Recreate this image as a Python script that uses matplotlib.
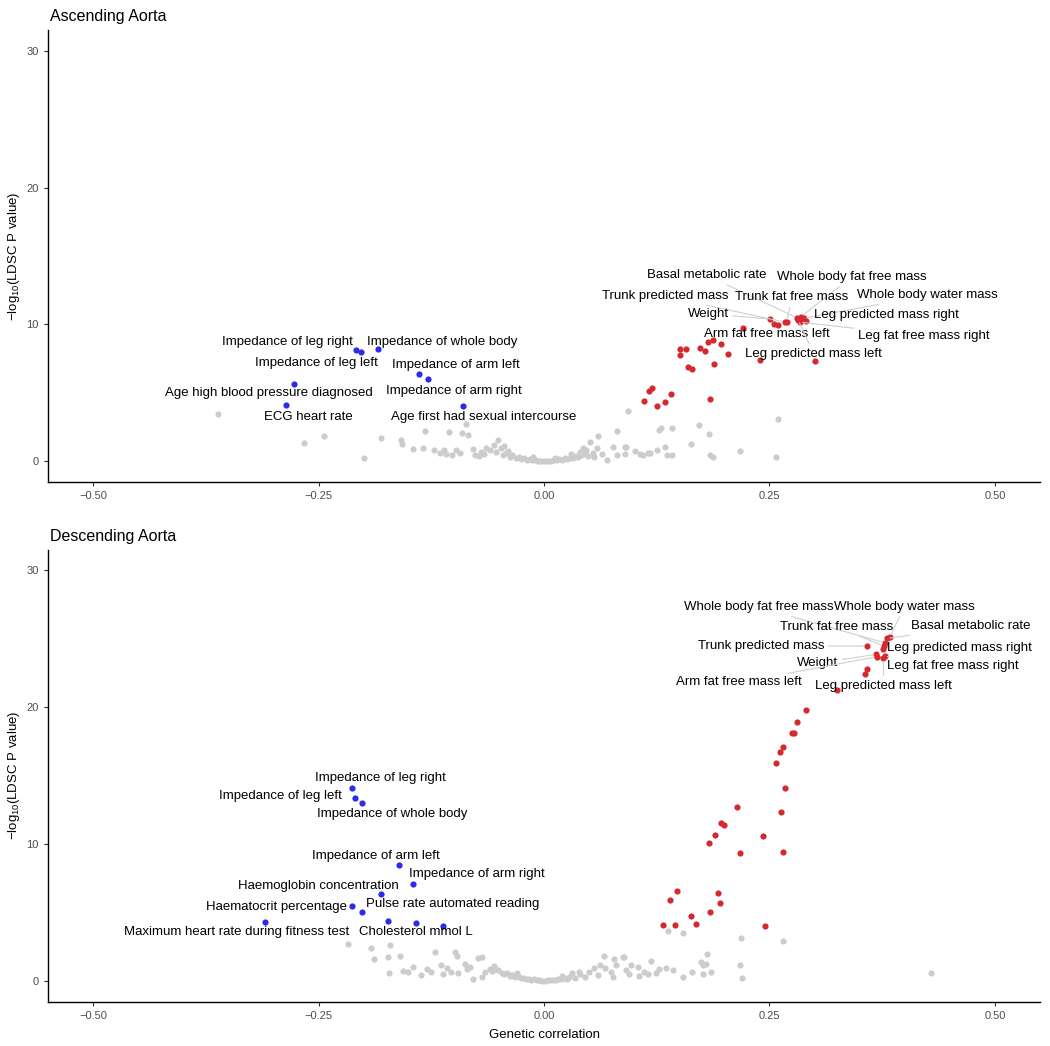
import matplotlib
matplotlib.use('Agg')
import matplotlib.pyplot as plt

plt.rcParams['font.family'] = ['Liberation Sans', 'DejaVu Sans']
plt.rcParams['mathtext.default'] = 'regular'

# ---------------- Ascending aorta ----------------
asc_pos_traits = ['Basal metabolic rate', 'Whole body fat free mass', 'Trunk predicted mass',
                  'Trunk fat free mass', 'Whole body water mass', 'Weight',
                  'Leg predicted mass right', 'Arm fat free mass left',
                  'Leg fat free mass right', 'Leg predicted mass left']
asc_pos_rg = [0.280, 0.285, 0.267, 0.269, 0.288, 0.251, 0.291, 0.221, 0.284, 0.282]
asc_pos_logp = [10.50, 10.58, 10.17, 10.20, 10.45, 10.40, 10.24, 9.76, 10.17, 10.30]

asc_pos_other_rg = [0.255, 0.259, 0.196, 0.182, 0.187, 0.204, 0.173, 0.178, 0.151, 0.157,
                    0.151, 0.160, 0.164, 0.188, 0.240, 0.300, 0.116, 0.120, 0.141, 0.111,
                    0.125, 0.134, 0.184]
asc_pos_other_logp = [10.05, 9.98, 8.59, 8.71, 8.88, 7.86, 8.27, 8.10, 8.18, 8.18,
                      7.74, 6.93, 6.76, 7.10, 7.42, 7.30, 5.18, 5.35, 4.96, 4.38,
                      4.06, 4.31, 4.57]

asc_neg_traits = ['Impedance of leg right', 'Impedance of leg left', 'Impedance of whole body',
                  'Impedance of arm left', 'Impedance of arm right',
                  'Age high blood pressure diagnosed', 'ECG heart rate',
                  'Age first had sexual intercourse']
asc_neg_rg = [-0.209, -0.203, -0.184, -0.139, -0.129, -0.277, -0.286, -0.0895]
asc_neg_logp = [8.15, 7.98, 8.18, 6.40, 6.03, 5.69, 4.09, 4.06]

asc_grey_rg = [-0.361, -0.266, -0.244, -0.200, -0.181, -0.159, -0.157, -0.132, -0.134, -0.122,
               -0.111, -0.109, -0.105, -0.098, -0.091, -0.084, -0.086, -0.079, -0.077, -0.070,
               -0.064, -0.055, -0.051, -0.053, -0.046, -0.042, -0.038, -0.035, -0.031, -0.028,
               -0.025, -0.022, -0.019, -0.016, -0.013, -0.010, -0.007, -0.004, -0.001, 0.002,
               0.005, 0.008, 0.011, 0.014, 0.017, 0.020, 0.023, 0.026, 0.029, 0.032,
               0.035, 0.038, 0.041, 0.043, 0.046, 0.051, 0.049, 0.054, 0.059, 0.060,
               0.064, 0.070, 0.077, 0.081, 0.081, 0.0895, 0.0895, 0.0914, 0.093, 0.1007,
               0.106, 0.110, 0.1155, 0.117, 0.125, 0.128, 0.130, 0.134, 0.136, 0.1415,
               0.142, 0.163, 0.172, 0.183, 0.184, 0.187, 0.217, 0.2575, 0.260,
               -0.060, -0.048, -0.044, -0.040, -0.066, -0.072, -0.093, -0.102, -0.115, -0.145,
               0.030, 0.040, 0.047, 0.055, 0.012, -0.012]
asc_grey_logp = [3.50, 1.34, 1.85, 0.22, 1.73, 1.53, 1.29, 2.21, 1.00, 0.80,
                 0.85, 0.56, 2.14, 0.80, 2.07, 1.95, 2.75, 0.93, 0.44, 0.68,
                 0.95, 1.17, 1.53, 0.68, 0.44, 0.62, 0.31, 0.45, 0.25, 0.33,
                 0.18, 0.22, 0.12, 0.15, 0.08, 0.10, 0.05, 0.04, 0.02, 0.03,
                 0.05, 0.06, 0.10, 0.08, 0.15, 0.13, 0.22, 0.18, 0.28, 0.25,
                 0.38, 0.30, 0.47, 1.00, 0.55, 1.41, 0.42, 0.62, 1.00, 1.85,
                 0.51, 0.12, 1.04, 2.24, 0.44, 0.56, 1.09, 1.04, 3.67, 0.75,
                 0.56, 0.44, 0.63, 0.61, 0.80, 2.31, 2.43, 1.09, 0.44, 0.44,
                 2.43, 1.24, 2.68, 1.97, 0.44, 0.31, 0.75, 0.31, 3.09,
                 0.85, 0.95, 1.10, 0.75, 0.55, 0.40, 0.60, 0.50, 0.65, 0.90,
                 0.55, 0.70, 0.85, 0.30, 0.25, 0.30]

# ---------------- Descending aorta ----------------
desc_pos_traits = ['Whole body water mass', 'Basal metabolic rate', 'Whole body fat free mass',
                   'Trunk fat free mass', 'Leg predicted mass right', 'Trunk predicted mass',
                   'Weight', 'Arm fat free mass left', 'Leg fat free mass right',
                   'Leg predicted mass left']
desc_pos_rg = [0.3835, 0.3806, 0.3776, 0.3769, 0.3758, 0.3576, 0.3676, 0.3687, 0.3776, 0.3762]
desc_pos_logp = [25.13, 25.01, 24.70, 24.45, 24.23, 24.45, 23.85, 23.67, 23.72, 23.55]

desc_pos_other_rg = [0.3584, 0.3557, 0.325, 0.290, 0.280, 0.275, 0.2775, 0.265, 0.2616, 0.2567,
                     0.2667, 0.2145, 0.2627, 0.196, 0.1997, 0.190, 0.2423, 0.1826, 0.2175, 0.2653,
                     0.147, 0.140, 0.193, 0.195, 0.163, 0.184, 0.168, 0.1315, 0.145, 0.2453]
desc_pos_other_logp = [22.8, 22.4, 21.24, 19.8, 18.9, 18.1, 18.1, 17.1, 16.74, 15.9,
                       14.09, 12.68, 12.36, 11.53, 11.41, 10.63, 10.61, 10.07, 9.34, 9.42,
                       6.59, 5.91, 6.40, 5.69, 4.74, 5.01, 4.18, 4.06, 4.06, 3.99]

desc_neg_traits = ['Impedance of leg right', 'Impedance of leg left', 'Impedance of whole body',
                   'Impedance of arm left', 'Impedance of arm right', 'Haemoglobin concentration',
                   'Haematocrit percentage', 'Pulse rate automated reading',
                   'Maximum heart rate during fitness test', 'Cholesterol mmol L']
desc_neg_rg = [-0.2127, -0.2097, -0.2015, -0.1607, -0.1452, -0.1808, -0.2127, -0.2022, -0.309, -0.1118]
desc_neg_logp = [14.11, 13.38, 12.97, 8.47, 7.06, 6.33, 5.47, 5.06, 4.33, 4.01]

desc_neg_other_rg = [-0.173, -0.1415]
desc_neg_other_logp = [4.38, 4.21]

desc_grey_rg = [-0.2175, -0.1914, -0.1705, -0.1884, -0.1735, -0.160, -0.172, -0.156, -0.151, -0.136,
                -0.1207, -0.125, -0.114, -0.1125, -0.099, -0.0968, -0.1029, -0.0953, -0.0879, -0.079,
                -0.073, -0.069, -0.0819, -0.069, -0.0655, -0.0558, -0.0506,
                -0.047, -0.044, -0.041, -0.038, -0.035, -0.032, -0.029, -0.026, -0.023, -0.020,
                -0.017, -0.014, -0.011, -0.008, -0.005, -0.002, 0.001, 0.004, 0.007, 0.010,
                0.013, 0.016, 0.019, 0.022, 0.025, 0.028, 0.031, 0.034, 0.0388, 0.046,
                0.050, 0.0595, 0.0626, 0.0664, 0.0738, 0.076, 0.0798, 0.0872, 0.091, 0.0947,
                0.1058, 0.111, 0.1185, 0.1156, 0.128, 0.1356, 0.143, 0.154, 0.164, 0.1744,
                0.1803, 0.1767, 0.1767, 0.1855, 0.2168, 0.2198, 0.2182, 0.2653, 0.429, 0.138,
                0.1537, 0.0777, 0.0884, 0.1797, -0.060, -0.058, -0.054, -0.085, -0.108, -0.130,
                -0.145, 0.020, 0.040, -0.030, 0.055, 0.068, 0.097, 0.104, 0.124]
desc_grey_logp = [2.70, 2.39, 2.63, 1.58, 1.73, 1.82, 0.56, 0.75, 0.63, 0.44,
                  2.09, 0.68, 1.17, 0.49, 2.14, 1.82, 0.63, 0.56, 1.24, 0.12,
                  1.66, 1.73, 1.05, 0.31, 0.63, 1.12, 0.80,
                  0.62, 0.50, 0.55, 0.40, 0.42, 0.30, 0.33, 0.22, 0.25, 0.15,
                  0.17, 0.10, 0.12, 0.06, 0.05, 0.03, 0.02, 0.04, 0.06, 0.08,
                  0.10, 0.12, 0.16, 0.20, 0.18, 0.30, 0.56, 0.25, 0.68, 0.31,
                  0.68, 0.44, 1.17, 1.82, 0.68, 0.31, 1.17, 1.77, 0.80, 0.49,
                  0.36, 0.68, 1.48, 0.49, 0.85, 0.92, 0.80, 0.31, 0.63, 1.41,
                  1.97, 1.17, 0.49, 0.63, 1.17, 0.19, 3.14, 2.94, 0.56, 3.67,
                  3.50, 1.63, 1.73, 1.24, 0.90, 0.70, 0.85, 0.90, 0.95, 0.90,
                  1.00, 0.35, 0.50, 0.55, 0.95, 0.95, 1.20, 1.00, 0.55]

# label placement (centre of text, data units), hand-placed like ggrepel did
asc_label_pos = {
    'Basal metabolic rate': (0.181, 13.58), 'Whole body fat free mass': (0.341, 13.45),
    'Trunk predicted mass': (0.134, 12.07), 'Trunk fat free mass': (0.275, 12.0),
    'Whole body water mass': (0.425, 12.12), 'Weight': (0.182, 10.78),
    'Leg predicted mass right': (0.380, 10.66), 'Arm fat free mass left': (0.247, 9.32),
    'Leg fat free mass right': (0.421, 9.15), 'Leg predicted mass left': (0.299, 7.86),
    'Impedance of leg right': (-0.285, 8.7), 'Impedance of leg left': (-0.2525, 7.18),
    'Impedance of whole body': (-0.113, 8.72), 'Impedance of arm left': (-0.0973, 7.06),
    'Impedance of arm right': (-0.0996, 5.16), 'Age high blood pressure diagnosed': (-0.305, 4.99),
    'ECG heart rate': (-0.261, 3.24), 'Age first had sexual intercourse': (-0.0667, 3.24),
}
desc_label_pos = {
    'Whole body water mass': (0.3996, 27.32), 'Basal metabolic rate': (0.473, 25.91),
    'Whole body fat free mass': (0.2384, 27.28), 'Trunk fat free mass': (0.3243, 25.86),
    'Leg predicted mass right': (0.4608, 24.33), 'Trunk predicted mass': (0.2406, 24.48),
    'Weight': (0.3037, 23.19), 'Arm fat free mass left': (0.2166, 21.8),
    'Leg fat free mass right': (0.453, 23.02), 'Leg predicted mass left': (0.3769, 21.56),
    'Impedance of leg right': (-0.1815, 14.79), 'Impedance of leg left': (-0.2926, 13.5),
    'Impedance of whole body': (-0.1685, 12.19), 'Impedance of arm left': (-0.1863, 9.12),
    'Impedance of arm right': (-0.0742, 7.79), 'Haemoglobin concentration': (-0.2505, 6.93),
    'Haematocrit percentage': (-0.2967, 5.42), 'Pulse rate automated reading': (-0.1009, 5.62),
    'Maximum heart rate during fitness test': (-0.3406, 3.55), 'Cholesterol mmol L': (-0.1422, 3.55),
}
asc_with_segment = {'Basal metabolic rate', 'Whole body fat free mass', 'Trunk predicted mass',
                    'Trunk fat free mass', 'Whole body water mass', 'Weight',
                    'Leg fat free mass right', 'Leg predicted mass left'}
desc_with_segment = {'Whole body water mass', 'Basal metabolic rate', 'Whole body fat free mass',
                     'Trunk fat free mass', 'Trunk predicted mass', 'Weight',
                     'Arm fat free mass left', 'Leg fat free mass right', 'Leg predicted mass left'}

GREY = '#cccccc'
RED = '#d42a2f'
BLUE = '#2b2bea'


def draw_panel(ax, grey, pos, pos_other, neg, neg_other, label_pos, with_seg):
    ax.scatter(grey[0], grey[1], s=20, color=GREY, linewidths=0, zorder=2)
    ax.scatter(pos_other[0], pos_other[1], s=20, color=RED, linewidths=0, zorder=3)
    ax.scatter(pos[1], pos[2], s=20, color=RED, linewidths=0, zorder=3)
    ax.scatter(neg_other[0], neg_other[1], s=20, color=BLUE, linewidths=0, zorder=3)
    ax.scatter(neg[1], neg[2], s=20, color=BLUE, linewidths=0, zorder=3)
    for traits, xs, ys in (pos, neg):
        for name, x, y in zip(traits, xs, ys):
            tx, ty = label_pos[name]
            props = None
            if name in with_seg:
                props = dict(arrowstyle='-', color='#cfcfcf', lw=0.8, shrinkA=1, shrinkB=2)
            ax.annotate(name, xy=(x, y), xytext=(tx, ty), ha='center', va='center',
                        fontsize=9.5, color='black', arrowprops=props, zorder=4)
    ax.set_xlim(-0.55, 0.55)
    ax.set_ylim(-1.5, 31.5)
    ax.set_xticks([-0.5, -0.25, 0, 0.25, 0.5])
    ax.set_xticklabels(['\u22120.50', '\u22120.25', '0.00', '0.25', '0.50'])
    ax.set_yticks([0, 10, 20, 30])
    for s in ('top', 'right'):
        ax.spines[s].set_visible(False)
    for s in ('left', 'bottom'):
        ax.spines[s].set_linewidth(1.0)
    ax.tick_params(labelsize=8, labelcolor='#4d4d4d', color='#333333', length=3, width=0.8)
    ax.set_ylabel('\u2212log$_{10}$(LDSC P value)', fontsize=9.5, labelpad=3)


fig = plt.figure(figsize=(10.5, 10.46), dpi=100)
ax1 = fig.add_axes([0.0457, 0.5392, 0.9448, 0.4321])
ax2 = fig.add_axes([0.0457, 0.0425, 0.9448, 0.4321])

draw_panel(ax1, (asc_grey_rg, asc_grey_logp),
           (asc_pos_traits, asc_pos_rg, asc_pos_logp),
           (asc_pos_other_rg, asc_pos_other_logp),
           (asc_neg_traits, asc_neg_rg, asc_neg_logp),
           ([], []), asc_label_pos, asc_with_segment)
draw_panel(ax2, (desc_grey_rg, desc_grey_logp),
           (desc_pos_traits, desc_pos_rg, desc_pos_logp),
           (desc_pos_other_rg, desc_pos_other_logp),
           (desc_neg_traits, desc_neg_rg, desc_neg_logp),
           (desc_neg_other_rg, desc_neg_other_logp), desc_label_pos, desc_with_segment)

ax2.set_xlabel('Genetic correlation', fontsize=9.5, labelpad=6)

fig.text(50 / 1050, 1 - 16 / 1046, 'Ascending Aorta', fontsize=11.5, va='center', ha='left')
fig.text(50 / 1050, 1 - 536 / 1046, 'Descending Aorta', fontsize=11.5, va='center', ha='left')

fig.savefig('out.png', dpi=100)
